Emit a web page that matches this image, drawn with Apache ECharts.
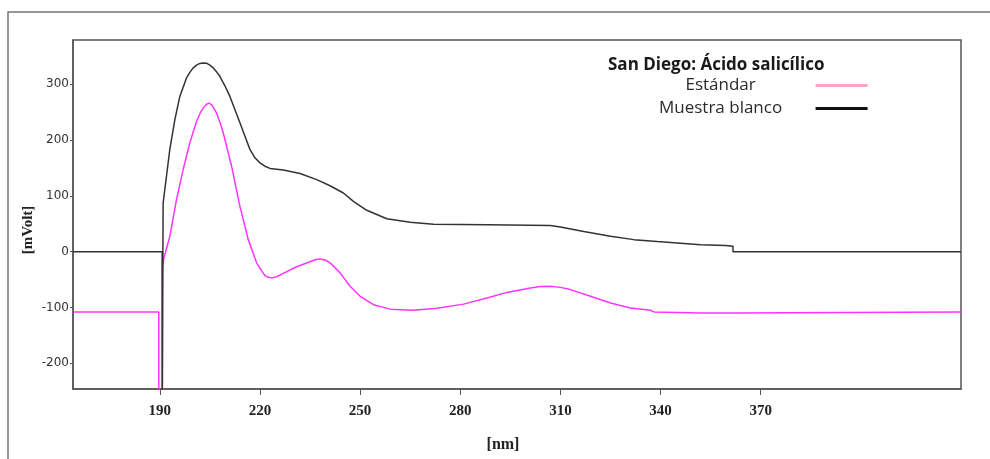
<!DOCTYPE html>
<html>
<head>
<meta charset="utf-8">
<script src="https://cdn.jsdelivr.net/npm/echarts@6/dist/echarts.min.js"></script>
<style>
  html, body { margin: 0; padding: 0; background: #fff; }
  #chart { width: 990px; height: 459px; }
</style>
</head>
<body>
<div id="chart"></div>
<script>
// Wavelength (nm) / signal (mV) pairs for each trace
const standardNm = [164, 189.7, 189.7, 190.8, 190.8, 191.2, 193, 195, 197, 199, 201, 202, 203, 204, 204.8, 205.7, 207, 208, 209, 211.5, 214, 216.5, 219, 220, 221.5, 222.5, 223.5, 225, 227, 231, 235, 236.5, 238, 239.5, 241, 244, 247, 250, 254, 259, 266, 273, 281, 288, 294, 301, 304, 307, 310, 313, 319, 325, 331, 337, 338, 352, 361, 361.5, 430];
const standardMv = [-108, -108, -300, -300, -30, -12, 27, 93, 147, 195, 233, 247, 257, 264, 266, 262, 248, 232, 213, 153, 81, 21.5, -20, -30, -43, -46, -47, -45, -39, -27, -18, -14.5, -13, -15, -20, -38, -62, -80, -95, -103, -105, -101.5, -94, -83, -73, -65, -62.5, -62, -64, -68, -80, -92, -101, -105, -108, -110, -110, -108, -108];

const blankNm = [164, 190.7, 190.7, 191.0, 191.0, 192, 193, 194.5, 196, 198, 199, 200, 201, 202, 203, 204, 205, 206, 207, 208, 209.5, 211, 214, 217, 218.5, 220, 221.5, 223, 227, 232, 237, 241, 245, 248, 252, 258, 265, 272, 288, 307, 310, 317, 325, 332, 339, 345, 352, 359.5, 361.7, 361.7, 430];
const blankMv = [0, 0, -300, -300, 87, 135, 183, 236, 278, 311, 321, 329, 334, 337, 338, 337.5, 334, 329, 322, 314, 297, 278, 231, 183, 168, 159, 153, 149, 146, 140, 129, 118, 105, 90, 74, 59, 52.5, 49, 48, 47, 44, 36, 27.5, 21.5, 18, 15.5, 12.5, 11, 9.5, 0, 0];

const xTicks = [190, 220, 250, 280, 310, 340, 370];
const yTicks = [-200, -100, 0, 100, 200, 300];

const seriesNames = ['Estándar', 'Muestra blanco'];
const chartTitle = 'San Diego: Ácido salicílico';
const yAxisTitle = '[mVolt]';
const xAxisTitle = '[nm]';

const zip = (xs, ys) => xs.map((x, i) => [x, ys[i]]);

const chart = echarts.init(document.getElementById('chart'), null, { renderer: 'canvas' });

chart.setOption({
  animation: false,
  backgroundColor: '#ffffff',
  graphic: [
    {
      // outer frame around the whole figure
      type: 'rect',
      shape: { x: 8, y: 12, width: 1000, height: 470 },
      style: { fill: 'none', stroke: '#777', lineWidth: 1.5 },
      silent: true
    },
    {
      // vertical axis title
      type: 'text',
      x: 28.5,
      y: 230,
      rotation: Math.PI / 2,
      style: {
        text: yAxisTitle,
        align: 'center',
        verticalAlign: 'middle',
        fontFamily: 'Liberation Serif',
        fontWeight: 'bold',
        fontSize: 15,
        fill: '#222'
      },
      silent: true
    }
  ],
  title: {
    text: chartTitle,
    left: 608,
    top: 57,
    padding: 0,
    textStyle: { fontFamily: 'Open Sans', fontWeight: 'bold', fontSize: 17, color: '#1a1a1a' }
  },
  legend: {
    orient: 'vertical',
    align: 'right',
    left: 659,
    top: 77,
    padding: 0,
    itemGap: 6,
    itemWidth: 52,
    itemHeight: 3,
    icon: 'rect',
    selectedMode: false,
    formatter: name => '{a|' + name + '}',
    textStyle: {
      rich: {
        a: { width: 180, align: 'center', fontFamily: 'Open Sans', fontSize: 17, color: '#2a2a2a' }
      }
    },
    data: [
      { name: seriesNames[0], itemStyle: { color: '#f5a3c7' } },
      { name: seriesNames[1], itemStyle: { color: '#111' } }
    ]
  },
  grid: {
    left: 73, right: 29, top: 40, bottom: 70,
    outerBoundsMode: 'none',
    containLabel: false,
    show: true,
    borderColor: '#555',
    borderWidth: 1.5
  },
  xAxis: {
    type: 'value',
    min: 164,
    max: 430,
    name: xAxisTitle,
    nameLocation: 'middle',
    nameGap: 48,
    nameMoveOverlap: false,
    nameTextStyle: { fontFamily: 'Liberation Serif', fontWeight: 'bold', fontSize: 16, color: '#222', padding: [0, 28, 0, 0] },
    axisLine: { show: true, onZero: false, lineStyle: { color: '#555', width: 1.5 } },
    axisTick: { show: true, length: 6, customValues: xTicks, lineStyle: { color: '#555' } },
    axisLabel: {
      customValues: xTicks,
      margin: 15,
      fontFamily: 'Liberation Serif', fontWeight: 'bold', fontSize: 15, color: '#222'
    },
    splitLine: { show: false }
  },
  yAxis: {
    type: 'value',
    min: -246,
    max: 379,
    axisLine: { show: true, onZero: false, lineStyle: { color: '#555', width: 1.5 } },
    axisTick: { show: true, length: 3, customValues: yTicks, lineStyle: { color: '#555' } },
    axisLabel: {
      customValues: yTicks,
      margin: 4,
      padding: [0, 0, 6, 0],
      fontFamily: 'DejaVu Sans', fontSize: 12, color: '#333'
    },
    splitLine: { show: false }
  },
  series: [
    {
      name: seriesNames[0],
      type: 'line',
      data: zip(standardNm, standardMv),
      showSymbol: false,
      clip: true,
      itemStyle: { color: '#ff33ff' },
      lineStyle: { color: '#ff33ff', width: 1.5 }
    },
    {
      name: seriesNames[1],
      type: 'line',
      data: zip(blankNm, blankMv),
      showSymbol: false,
      clip: true,
      itemStyle: { color: '#111' },
      lineStyle: { color: '#333', width: 1.5 }
    }
  ]
});
</script>
</body>
</html>
